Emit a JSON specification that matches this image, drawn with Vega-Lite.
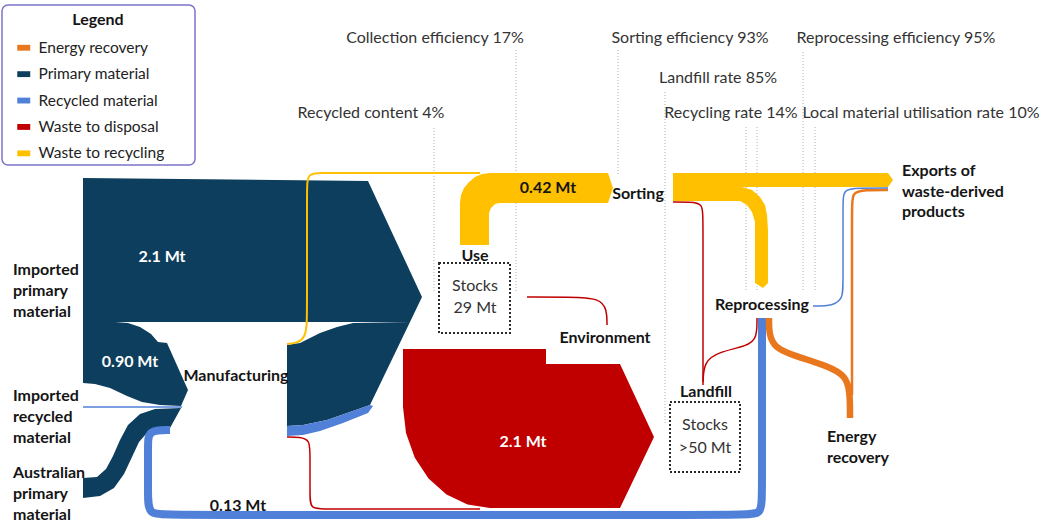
{
  "$schema": "https://vega.github.io/schema/vega-lite/v6.json",
  "width": 1056,
  "height": 523,
  "padding": 0,
  "autosize": {"type": "none"},
  "background": "#ffffff",
  "config": {"view": {"stroke": null}, "font": "Lato"},
  "datasets": {
    "polys": [
      {"id":"imp","cat":"Primary material","o":1,"x":83,"y":178},
      {"id":"imp","cat":"Primary material","o":2,"x":368,"y":181},
      {"id":"imp","cat":"Primary material","o":3,"x":422,"y":297},
      {"id":"imp","cat":"Primary material","o":4,"x":410,"y":322},
      {"id":"imp","cat":"Primary material","o":5,"x":115,"y":322},
      {"id":"imp","cat":"Primary material","o":6,"x":128,"y":323},
      {"id":"imp","cat":"Primary material","o":7,"x":140,"y":327},
      {"id":"imp","cat":"Primary material","o":8,"x":151,"y":334},
      {"id":"imp","cat":"Primary material","o":9,"x":158,"y":342},
      {"id":"imp","cat":"Primary material","o":10,"x":167,"y":343},
      {"id":"imp","cat":"Primary material","o":11,"x":188,"y":390},
      {"id":"imp","cat":"Primary material","o":12,"x":181,"y":406},
      {"id":"imp","cat":"Primary material","o":13,"x":160,"y":405},
      {"id":"imp","cat":"Primary material","o":14,"x":142,"y":402},
      {"id":"imp","cat":"Primary material","o":15,"x":127,"y":396},
      {"id":"imp","cat":"Primary material","o":16,"x":110,"y":388},
      {"id":"imp","cat":"Primary material","o":17,"x":95,"y":384},
      {"id":"imp","cat":"Primary material","o":18,"x":83,"y":383},
      {"id":"aus","cat":"Primary material","o":1,"x":83,"y":478},
      {"id":"aus","cat":"Primary material","o":2,"x":97,"y":477},
      {"id":"aus","cat":"Primary material","o":3,"x":106,"y":469},
      {"id":"aus","cat":"Primary material","o":4,"x":113,"y":456},
      {"id":"aus","cat":"Primary material","o":5,"x":120,"y":440},
      {"id":"aus","cat":"Primary material","o":6,"x":128,"y":425},
      {"id":"aus","cat":"Primary material","o":7,"x":140,"y":414},
      {"id":"aus","cat":"Primary material","o":8,"x":155,"y":409},
      {"id":"aus","cat":"Primary material","o":9,"x":181,"y":408},
      {"id":"aus","cat":"Primary material","o":10,"x":170,"y":428},
      {"id":"aus","cat":"Primary material","o":11,"x":156,"y":429},
      {"id":"aus","cat":"Primary material","o":12,"x":146,"y":434},
      {"id":"aus","cat":"Primary material","o":13,"x":139,"y":442},
      {"id":"aus","cat":"Primary material","o":14,"x":132,"y":457},
      {"id":"aus","cat":"Primary material","o":15,"x":124,"y":474},
      {"id":"aus","cat":"Primary material","o":16,"x":114,"y":488},
      {"id":"aus","cat":"Primary material","o":17,"x":100,"y":496},
      {"id":"aus","cat":"Primary material","o":18,"x":83,"y":498},
      {"id":"mfg","cat":"Primary material","o":1,"x":287,"y":345},
      {"id":"mfg","cat":"Primary material","o":2,"x":300,"y":343},
      {"id":"mfg","cat":"Primary material","o":3,"x":320,"y":333},
      {"id":"mfg","cat":"Primary material","o":4,"x":337,"y":327},
      {"id":"mfg","cat":"Primary material","o":5,"x":353,"y":323},
      {"id":"mfg","cat":"Primary material","o":6,"x":410,"y":322},
      {"id":"mfg","cat":"Primary material","o":7,"x":370,"y":405},
      {"id":"mfg","cat":"Primary material","o":8,"x":350,"y":412},
      {"id":"mfg","cat":"Primary material","o":9,"x":327,"y":420},
      {"id":"mfg","cat":"Primary material","o":10,"x":303,"y":425},
      {"id":"mfg","cat":"Primary material","o":11,"x":287,"y":426},
      {"id":"mrec","cat":"Recycled material","o":1,"x":287,"y":426},
      {"id":"mrec","cat":"Recycled material","o":2,"x":303,"y":425},
      {"id":"mrec","cat":"Recycled material","o":3,"x":327,"y":420},
      {"id":"mrec","cat":"Recycled material","o":4,"x":350,"y":412},
      {"id":"mrec","cat":"Recycled material","o":5,"x":370,"y":405},
      {"id":"mrec","cat":"Recycled material","o":6,"x":373,"y":406},
      {"id":"mrec","cat":"Recycled material","o":7,"x":368,"y":413},
      {"id":"mrec","cat":"Recycled material","o":8,"x":343,"y":423},
      {"id":"mrec","cat":"Recycled material","o":9,"x":320,"y":431},
      {"id":"mrec","cat":"Recycled material","o":10,"x":303,"y":435},
      {"id":"mrec","cat":"Recycled material","o":11,"x":287,"y":436},
      {"id":"disp","cat":"Waste to disposal","o":1,"x":403,"y":349},
      {"id":"disp","cat":"Waste to disposal","o":2,"x":546,"y":349},
      {"id":"disp","cat":"Waste to disposal","o":3,"x":546,"y":364},
      {"id":"disp","cat":"Waste to disposal","o":4,"x":620,"y":364},
      {"id":"disp","cat":"Waste to disposal","o":5,"x":654,"y":437},
      {"id":"disp","cat":"Waste to disposal","o":6,"x":620,"y":508},
      {"id":"disp","cat":"Waste to disposal","o":7,"x":490,"y":508},
      {"id":"disp","cat":"Waste to disposal","o":8,"x":467.5,"y":504.6},
      {"id":"disp","cat":"Waste to disposal","o":9,"x":446.5,"y":494.5},
      {"id":"disp","cat":"Waste to disposal","o":10,"x":428.5,"y":478.4},
      {"id":"disp","cat":"Waste to disposal","o":11,"x":414.7,"y":457.5},
      {"id":"disp","cat":"Waste to disposal","o":12,"x":406,"y":433},
      {"id":"disp","cat":"Waste to disposal","o":13,"x":403,"y":407},
      {"id":"use","cat":"Waste to recycling","o":1,"x":460,"y":245},
      {"id":"use","cat":"Waste to recycling","o":2,"x":460,"y":203},
      {"id":"use","cat":"Waste to recycling","o":3,"x":461,"y":195},
      {"id":"use","cat":"Waste to recycling","o":4,"x":464,"y":188},
      {"id":"use","cat":"Waste to recycling","o":5,"x":469,"y":182},
      {"id":"use","cat":"Waste to recycling","o":6,"x":475,"y":177},
      {"id":"use","cat":"Waste to recycling","o":7,"x":482,"y":174},
      {"id":"use","cat":"Waste to recycling","o":8,"x":490,"y":173},
      {"id":"use","cat":"Waste to recycling","o":9,"x":608,"y":173},
      {"id":"use","cat":"Waste to recycling","o":10,"x":613,"y":188},
      {"id":"use","cat":"Waste to recycling","o":11,"x":608,"y":203},
      {"id":"use","cat":"Waste to recycling","o":12,"x":500,"y":203},
      {"id":"use","cat":"Waste to recycling","o":13,"x":495,"y":204},
      {"id":"use","cat":"Waste to recycling","o":14,"x":491,"y":208},
      {"id":"use","cat":"Waste to recycling","o":15,"x":489,"y":213},
      {"id":"use","cat":"Waste to recycling","o":16,"x":489,"y":245},
      {"id":"sort","cat":"Waste to recycling","o":1,"x":673,"y":173},
      {"id":"sort","cat":"Waste to recycling","o":2,"x":888,"y":173},
      {"id":"sort","cat":"Waste to recycling","o":3,"x":893,"y":180},
      {"id":"sort","cat":"Waste to recycling","o":4,"x":888,"y":187},
      {"id":"sort","cat":"Waste to recycling","o":5,"x":742,"y":187},
      {"id":"sort","cat":"Waste to recycling","o":6,"x":752,"y":190},
      {"id":"sort","cat":"Waste to recycling","o":7,"x":760,"y":197},
      {"id":"sort","cat":"Waste to recycling","o":8,"x":765,"y":205},
      {"id":"sort","cat":"Waste to recycling","o":9,"x":767,"y":215},
      {"id":"sort","cat":"Waste to recycling","o":10,"x":768,"y":230},
      {"id":"sort","cat":"Waste to recycling","o":11,"x":768,"y":283},
      {"id":"sort","cat":"Waste to recycling","o":12,"x":763,"y":288},
      {"id":"sort","cat":"Waste to recycling","o":13,"x":755,"y":283},
      {"id":"sort","cat":"Waste to recycling","o":14,"x":755,"y":222},
      {"id":"sort","cat":"Waste to recycling","o":15,"x":752,"y":212},
      {"id":"sort","cat":"Waste to recycling","o":16,"x":747,"y":205},
      {"id":"sort","cat":"Waste to recycling","o":17,"x":740,"y":201},
      {"id":"sort","cat":"Waste to recycling","o":18,"x":673,"y":201}
    ],
    "pipes": [
      {"id":"y_mfg","cat":"Waste to recycling","o":1,"x":287,"y":344},
      {"id":"y_mfg","cat":"Waste to recycling","o":2,"x":298,"y":343},
      {"id":"y_mfg","cat":"Waste to recycling","o":3,"x":305,"y":337},
      {"id":"y_mfg","cat":"Waste to recycling","o":4,"x":307,"y":325},
      {"id":"y_mfg","cat":"Waste to recycling","o":5,"x":307,"y":300},
      {"id":"y_mfg","cat":"Waste to recycling","o":6,"x":307,"y":190},
      {"id":"y_mfg","cat":"Waste to recycling","o":7,"x":307,"y":173},
      {"id":"y_mfg","cat":"Waste to recycling","o":8,"x":322,"y":173},
      {"id":"y_mfg","cat":"Waste to recycling","o":9,"x":340,"y":173},
      {"id":"y_mfg","cat":"Waste to recycling","o":10,"x":480,"y":173},
      {"id":"r_mfg","cat":"Waste to disposal","o":1,"x":287,"y":437},
      {"id":"r_mfg","cat":"Waste to disposal","o":2,"x":300,"y":437},
      {"id":"r_mfg","cat":"Waste to disposal","o":3,"x":310,"y":440},
      {"id":"r_mfg","cat":"Waste to disposal","o":4,"x":310,"y":455},
      {"id":"r_mfg","cat":"Waste to disposal","o":5,"x":310,"y":495},
      {"id":"r_mfg","cat":"Waste to disposal","o":6,"x":310,"y":509},
      {"id":"r_mfg","cat":"Waste to disposal","o":7,"x":325,"y":509},
      {"id":"r_mfg","cat":"Waste to disposal","o":8,"x":480,"y":509},
      {"id":"r_env","cat":"Waste to disposal","o":1,"x":527,"y":297},
      {"id":"r_env","cat":"Waste to disposal","o":2,"x":570,"y":297},
      {"id":"r_env","cat":"Waste to disposal","o":3,"x":600,"y":298},
      {"id":"r_env","cat":"Waste to disposal","o":4,"x":607,"y":310},
      {"id":"r_env","cat":"Waste to disposal","o":5,"x":607,"y":325},
      {"id":"r_sort","cat":"Waste to disposal","o":1,"x":673,"y":202},
      {"id":"r_sort","cat":"Waste to disposal","o":2,"x":690,"y":202},
      {"id":"r_sort","cat":"Waste to disposal","o":3,"x":703,"y":203},
      {"id":"r_sort","cat":"Waste to disposal","o":4,"x":703,"y":220},
      {"id":"r_sort","cat":"Waste to disposal","o":5,"x":703,"y":385},
      {"id":"r_rep","cat":"Waste to disposal","o":1,"x":757,"y":318},
      {"id":"r_rep","cat":"Waste to disposal","o":2,"x":757,"y":338},
      {"id":"r_rep","cat":"Waste to disposal","o":3,"x":748,"y":346},
      {"id":"r_rep","cat":"Waste to disposal","o":4,"x":718,"y":352},
      {"id":"r_rep","cat":"Waste to disposal","o":5,"x":704,"y":362},
      {"id":"r_rep","cat":"Waste to disposal","o":6,"x":703,"y":382},
      {"id":"b_loop","cat":"Recycled material","o":1,"x":762,"y":318},
      {"id":"b_loop","cat":"Recycled material","o":2,"x":762,"y":495},
      {"id":"b_loop","cat":"Recycled material","o":3,"x":762,"y":515},
      {"id":"b_loop","cat":"Recycled material","o":4,"x":742,"y":515},
      {"id":"b_loop","cat":"Recycled material","o":5,"x":170,"y":515},
      {"id":"b_loop","cat":"Recycled material","o":6,"x":148,"y":515},
      {"id":"b_loop","cat":"Recycled material","o":7,"x":148,"y":495},
      {"id":"b_loop","cat":"Recycled material","o":8,"x":148,"y":445},
      {"id":"b_loop","cat":"Recycled material","o":9,"x":148,"y":430},
      {"id":"b_loop","cat":"Recycled material","o":10,"x":170,"y":430},
      {"id":"b_exp","cat":"Recycled material","o":1,"x":813,"y":306},
      {"id":"b_exp","cat":"Recycled material","o":2,"x":833,"y":306},
      {"id":"b_exp","cat":"Recycled material","o":3,"x":843,"y":298},
      {"id":"b_exp","cat":"Recycled material","o":4,"x":843,"y":285},
      {"id":"b_exp","cat":"Recycled material","o":5,"x":843,"y":205},
      {"id":"b_exp","cat":"Recycled material","o":6,"x":843,"y":189},
      {"id":"b_exp","cat":"Recycled material","o":7,"x":858,"y":188},
      {"id":"b_exp","cat":"Recycled material","o":8,"x":888,"y":188},
      {"id":"b_imp","cat":"Recycled material","o":1,"x":83,"y":407},
      {"id":"b_imp","cat":"Recycled material","o":2,"x":182,"y":407},
      {"id":"o_exp","cat":"Energy recovery","o":1,"x":888,"y":190},
      {"id":"o_exp","cat":"Energy recovery","o":2,"x":865,"y":190},
      {"id":"o_exp","cat":"Energy recovery","o":3,"x":852,"y":192},
      {"id":"o_exp","cat":"Energy recovery","o":4,"x":852,"y":208},
      {"id":"o_exp","cat":"Energy recovery","o":5,"x":852,"y":395},
      {"id":"o_rep","cat":"Energy recovery","o":1,"x":769,"y":318},
      {"id":"o_rep","cat":"Energy recovery","o":2,"x":769,"y":335},
      {"id":"o_rep","cat":"Energy recovery","o":3,"x":775,"y":348},
      {"id":"o_rep","cat":"Energy recovery","o":4,"x":795,"y":356},
      {"id":"o_rep","cat":"Energy recovery","o":5,"x":828,"y":366},
      {"id":"o_rep","cat":"Energy recovery","o":6,"x":846,"y":376},
      {"id":"o_rep","cat":"Energy recovery","o":7,"x":850,"y":392},
      {"id":"o_rep","cat":"Energy recovery","o":8,"x":850,"y":418}
    ],
    "guides": [
      {"x":434,"y":128,"y2":292},
      {"x":516,"y":50,"y2":292},
      {"x":618,"y":50,"y2":176},
      {"x":665,"y":92,"y2":425},
      {"x":746,"y":127,"y2":292},
      {"x":757,"y":127,"y2":292},
      {"x":803,"y":52,"y2":292},
      {"x":815,"y":127,"y2":292}
    ],
    "boxes": [
      {"x":439,"x2":510,"y":263,"y2":333},
      {"x":670,"x2":740,"y":402,"y2":472}
    ],
    "frame": [
      {"x":2,"x2":195,"y":5,"y2":165}
    ],
    "labels": [
      {"k":"bc","t":"Legend","x":98,"y":20},
      {"k":"n","t":"Collection efficiency 17%","x":435,"y":38},
      {"k":"n","t":"Sorting efficiency 93%","x":690,"y":38},
      {"k":"n","t":"Reprocessing efficiency 95%","x":896,"y":38},
      {"k":"n","t":"Landfill rate 85%","x":718,"y":78},
      {"k":"n","t":"Recycled content 4%","x":371,"y":113},
      {"k":"n","t":"Recycling rate 14%","x":731,"y":113},
      {"k":"n","t":"Local material utilisation rate 10%","x":921,"y":113},
      {"k":"n","t":"Stocks","x":475,"y":286},
      {"k":"n","t":"29 Mt","x":475,"y":308},
      {"k":"n","t":"Stocks","x":705,"y":425},
      {"k":"n","t":">50 Mt","x":705,"y":448},
      {"k":"bc","t":"Manufacturing","x":236,"y":376},
      {"k":"bc","t":"Use","x":475,"y":256},
      {"k":"bc","t":"Sorting","x":638,"y":194},
      {"k":"bc","t":"Environment","x":605,"y":338},
      {"k":"bc","t":"Landfill","x":706,"y":392},
      {"k":"bc","t":"Reprocessing","x":762,"y":305},
      {"k":"bc","t":"0.42 Mt","x":548,"y":188},
      {"k":"bc","t":"0.13 Mt","x":238,"y":506},
      {"k":"bl","t":"Imported","x":13,"y":270},
      {"k":"bl","t":"primary","x":13,"y":291},
      {"k":"bl","t":"material","x":13,"y":312},
      {"k":"bl","t":"Imported","x":13,"y":396},
      {"k":"bl","t":"recycled","x":13,"y":417},
      {"k":"bl","t":"material","x":13,"y":438},
      {"k":"bl","t":"Australian","x":13,"y":473},
      {"k":"bl","t":"primary","x":13,"y":494},
      {"k":"bl","t":"material","x":13,"y":515},
      {"k":"bl","t":"Exports of","x":902,"y":171},
      {"k":"bl","t":"waste-derived","x":902,"y":192},
      {"k":"bl","t":"products","x":902,"y":212},
      {"k":"bl","t":"Energy","x":827,"y":437},
      {"k":"bl","t":"recovery","x":827,"y":458},
      {"k":"w","t":"2.1 Mt","x":162,"y":257},
      {"k":"w","t":"0.90 Mt","x":130,"y":362},
      {"k":"w","t":"2.1 Mt","x":523,"y":442}
    ]
  },
  "encoding": {
    "x": {"field": "x", "type": "quantitative", "scale": {"domain": [0, 1056], "nice": false, "zero": false}, "axis": null},
    "y": {"field": "y", "type": "quantitative", "scale": {"domain": [0, 523], "reverse": true, "nice": false, "zero": false}, "axis": null}
  },
  "layer": [
    {
      "data": {"name": "frame"},
      "mark": {"type": "rect", "filled": false, "stroke": "#7B74C9", "strokeWidth": 1.5, "cornerRadius": 6},
      "encoding": {"x2": {"field": "x2"}, "y2": {"field": "y2"}}
    },
    {
      "data": {"name": "guides"},
      "mark": {"type": "rule", "color": "#b0b0b0", "strokeWidth": 1, "strokeDash": [1, 2]},
      "encoding": {"y2": {"field": "y2"}}
    },
    {
      "data": {"name": "boxes"},
      "mark": {"type": "rect", "filled": false, "stroke": "#2a2a2a", "strokeWidth": 2, "strokeDash": [2, 2]},
      "encoding": {"x2": {"field": "x2"}, "y2": {"field": "y2"}}
    },
    {
      "data": {"name": "polys"},
      "mark": {"type": "line", "filled": true, "interpolate": "linear", "strokeWidth": 0},
      "encoding": {
        "order": {"field": "o", "type": "quantitative"},
        "detail": {"field": "id"},
        "color": {
          "field": "cat", "type": "nominal",
          "scale": {"domain": ["Energy recovery", "Primary material", "Recycled material", "Waste to disposal", "Waste to recycling"], "range": ["#E8771E", "#0D3E5D", "#5080D8", "#C00000", "#FFC000"]},
          "legend": {
            "title": null, "orient": "none", "legendX": 6, "legendY": 30,
            "labelFont": "Lato", "labelFontSize": 15.5, "labelColor": "#222222", "labelOffset": 7,
            "symbolType": "M-1,-0.45H1V0.45H-1Z", "symbolSize": 169, "symbolStrokeWidth": 0, "symbolOpacity": 1,
            "padding": 10, "rowPadding": 9.4
          }
        }
      }
    },
    {
      "data": {"name": "pipes"},
      "transform": [{"filter": {"field": "id", "oneOf": ["b_loop"]}}],
      "mark": {"type": "line", "interpolate": "basis", "strokeWidth": 8, "strokeCap": "butt"},
      "encoding": {
        "order": {"field": "o", "type": "quantitative"},
        "detail": {"field": "id"},
        "color": {"field": "cat", "type": "nominal"}
      }
    },
    {
      "data": {"name": "pipes"},
      "transform": [{"filter": {"field": "id", "oneOf": ["o_rep"]}}],
      "mark": {"type": "line", "interpolate": "basis", "strokeWidth": 6.5, "strokeCap": "butt"},
      "encoding": {
        "order": {"field": "o", "type": "quantitative"},
        "detail": {"field": "id"},
        "color": {"field": "cat", "type": "nominal"}
      }
    },
    {
      "data": {"name": "pipes"},
      "transform": [{"filter": {"field": "id", "oneOf": ["o_exp"]}}],
      "mark": {"type": "line", "interpolate": "basis", "strokeWidth": 2.5, "strokeCap": "butt"},
      "encoding": {
        "order": {"field": "o", "type": "quantitative"},
        "detail": {"field": "id"},
        "color": {"field": "cat", "type": "nominal"}
      }
    },
    {
      "data": {"name": "pipes"},
      "transform": [{"filter": {"field": "id", "oneOf": ["y_mfg"]}}],
      "mark": {"type": "line", "interpolate": "basis", "strokeWidth": 2, "strokeCap": "butt"},
      "encoding": {
        "order": {"field": "o", "type": "quantitative"},
        "detail": {"field": "id"},
        "color": {"field": "cat", "type": "nominal"}
      }
    },
    {
      "data": {"name": "pipes"},
      "transform": [{"filter": {"field": "id", "oneOf": ["r_mfg", "r_env", "r_sort", "r_rep", "b_exp", "b_imp"]}}],
      "mark": {"type": "line", "interpolate": "basis", "strokeWidth": 1.5, "strokeCap": "butt"},
      "encoding": {
        "order": {"field": "o", "type": "quantitative"},
        "detail": {"field": "id"},
        "color": {"field": "cat", "type": "nominal"}
      }
    },
    {
      "data": {"name": "labels"},
      "transform": [{"filter": "datum.k == 'n'"}],
      "mark": {"type": "text", "font": "Lato", "fontSize": 16, "color": "#333333", "align": "center", "baseline": "middle"},
      "encoding": {"text": {"field": "t"}}
    },
    {
      "data": {"name": "labels"},
      "transform": [{"filter": "datum.k == 'bc'"}],
      "mark": {"type": "text", "font": "Lato", "fontSize": 16, "fontWeight": "bold", "color": "#151515", "align": "center", "baseline": "middle"},
      "encoding": {"text": {"field": "t"}}
    },
    {
      "data": {"name": "labels"},
      "transform": [{"filter": "datum.k == 'bl'"}],
      "mark": {"type": "text", "font": "Lato", "fontSize": 16, "fontWeight": "bold", "color": "#151515", "align": "left", "baseline": "middle"},
      "encoding": {"text": {"field": "t"}}
    },
    {
      "data": {"name": "labels"},
      "transform": [{"filter": "datum.k == 'w'"}],
      "mark": {"type": "text", "font": "Lato", "fontSize": 16, "fontWeight": "bold", "color": "#ffffff", "align": "center", "baseline": "middle"},
      "encoding": {"text": {"field": "t"}}
    }
  ]
}
